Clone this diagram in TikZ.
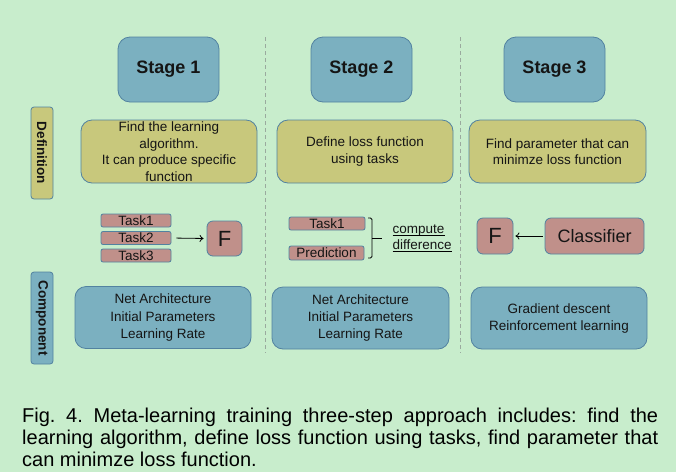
\documentclass[tikz,border=0pt]{standalone}
\usepackage{fontspec}
\setmainfont{Liberation Sans}
\usetikzlibrary{arrows.meta}
\definecolor{bg}{HTML}{C8EDCC}
\definecolor{stblue}{HTML}{7BB0C0}
\definecolor{stedge}{HTML}{5282A0}
\definecolor{defyel}{HTML}{C8C87C}
\definecolor{taskpink}{HTML}{C0908A}
\definecolor{sepgrey}{HTML}{9AAA9E}
\definecolor{ink}{HTML}{151515}
\frenchspacing
\begin{document}
\begin{tikzpicture}[x=1pt,y=-1pt,
 box/.style={draw=stedge, line width=0.8pt, inner sep=0pt, align=center, text=ink},
 stagebox/.style={box, fill=stblue, rounded corners=12pt, minimum width=101pt, minimum height=65pt, font=\fontsize{18}{21}\selectfont\bfseries},
 defbox/.style={box, fill=defyel, rounded corners=11pt, minimum width=176pt, minimum height=63pt, font=\fontsize{13.5}{16.5}\selectfont},
 compbox/.style={box, fill=stblue, rounded corners=11pt, minimum width=176pt, minimum height=62pt, font=\fontsize{13.5}{17}\selectfont},
 sidelabel/.style={box, rotate=-90, rounded corners=3pt, minimum width=92pt, minimum height=22pt, font=\fontsize{13.5}{16}\selectfont\bfseries},
 taskbox/.style={box, fill=taskpink, rounded corners=2pt, minimum height=13pt, font=\fontsize{13.5}{14}\selectfont},
 fnbox/.style={box, fill=taskpink, rounded corners=6pt, minimum size=35pt, font=\fontsize{22}{24}\selectfont},
 sepline/.style={draw=sepgrey, line width=1pt, dash pattern=on 4pt off 3pt},
 link/.style={-{To[length=4pt,width=7pt]}, line width=0.8pt, draw=black},
 plaintext/.style={inner sep=0pt, text=ink, font=\fontsize{13.5}{15}\selectfont},
]
\fill[bg] (0,0) rectangle (676,472);
\useasboundingbox (0,0) rectangle (676,472);

% separators
\draw[sepline] (265,37) -- (265,353);
\draw[sepline] (460,37) -- (460,353);

% stages
\node[stagebox] (s1) at (168.5,69.5) {Stage 1};
\node[stagebox] (s2) at (361.5,69.5) {Stage 2};
\node[stagebox] (s3) at (554.5,69.5) {Stage 3};

% side labels
\node[sidelabel, fill=defyel] (ldef) at (42,153) {Definition};
\node[sidelabel, fill=stblue] (lcomp) at (42,318) {Component};

% definitions
\node[defbox] (d1) at (169,151.5) {Find the learning\\algorithm.\\It can produce specific\\function};
\node[defbox] (d2) at (365,151.5) {Define loss function\\using tasks};
\node[defbox, minimum width=177pt] (d3) at (557.5,151.5) {Find parameter that can\\minimze loss function};

% stage 1 middle
\node[taskbox, minimum width=70pt] (t11) at (136,220.5) {Task1};
\node[taskbox, minimum width=70pt] (t12) at (136,238) {Task2};
\node[taskbox, minimum width=70pt] (t13) at (136,255.5) {Task3};
\node[fnbox] (f1) at (224.5,238.5) {F};
\draw[link, shorten <=5pt, shorten >=3pt] (t12.east) -- (f1.west);

% stage 2 middle
\node[taskbox, minimum width=76pt] (t21) at (327,223.5) {Task1};
\node[taskbox, minimum width=75pt, minimum height=14pt] (p21) at (326.5,253) {Prediction};
\coordinate (bt) at (368,218);
\coordinate (bb) at (368,258);
\draw[line width=0.8pt, rounded corners=1.5pt] (bt) -- ++(4,0) -- ++(0,40) -- (bb);
\draw[line width=0.8pt] (372,238) -- (382,238);
\node[plaintext, anchor=base west] (cmp) at (392.5,233) {compute};
\node[plaintext, anchor=base west] (dif) at (392.5,249.5) {difference};
\draw[line width=0.7pt] ([yshift=-2.2pt]cmp.base west) -- ([yshift=-2.2pt]cmp.base east);
\draw[line width=0.7pt] ([yshift=-2.2pt]dif.base west) -- ([yshift=-2.2pt]dif.base east);

% stage 3 middle
\node[fnbox, minimum size=36pt] (f3) at (495,236) {F};
\node[box, fill=taskpink, rounded corners=6pt, minimum width=99pt, minimum height=36pt, font=\fontsize{18}{20}\selectfont] (cls) at (594.5,236) {Classifier};
\draw[link, shorten <=2pt, shorten >=2pt] (cls.west) -- (f3.east);

% components
\node[compbox] (c1) at (163,317.5) {Net Architecture\\Initial Parameters\\Learning Rate};
\node[compbox, minimum width=177pt] (c2) at (360.5,318) {Net Architecture\\Initial Parameters\\Learning Rate};
\node[compbox] (c3) at (559,318) {Gradient descent\\Reinforcement learning};

% caption
\node[anchor=base west, inner sep=0pt, text width=636pt, align=justify, text=black, font=\fontsize{20}{22}\selectfont\frenchspacing] (cap) at (22,422.7) {Fig. 4. Meta-learning training three-step approach includes: find the\linebreak learning algorithm, define loss function using tasks, find parameter that\linebreak can minimze loss function.};
\end{tikzpicture}
\end{document}
